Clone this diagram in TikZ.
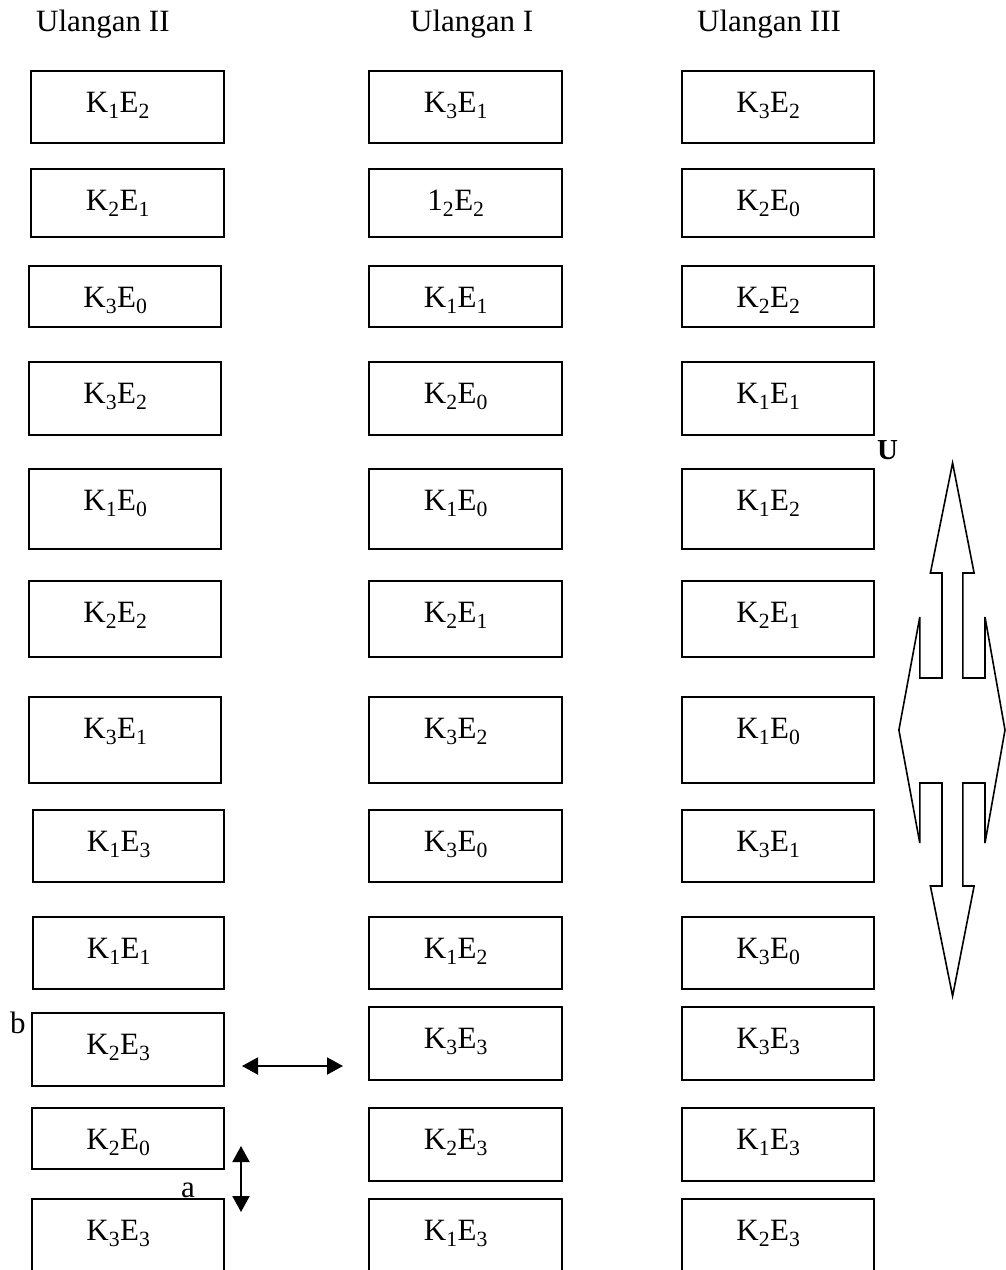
\documentclass[tikz,border=0pt]{standalone}
\usepackage{fontspec}
\setmainfont{Liberation Serif}
\usetikzlibrary{arrows.meta}

\newcommand{\ke}[2]{K\textsubscript{#1}E\textsubscript{#2}}

\tikzset{
	petak/.style={draw, line width=1.6pt, inner sep=0pt, outer sep=0pt},
	isi/.style={anchor=base, inner sep=0pt, font=\fontsize{31}{37}\selectfont},
	panah/.style={line width=2pt, {Triangle[length=16pt,width=17pt]}-{Triangle[length=16pt,width=17pt]}}
}

\begin{document}
\begin{tikzpicture}[x=1pt,y=-1pt]
	\useasboundingbox (0,0) rectangle (1006,1270);

	\node[isi, anchor=base west] (j2) at (36,31) {Ulangan II};
	\node[isi, anchor=base west] (j1) at (410,31) {Ulangan I};
	\node[isi, anchor=base west] (j3) at (697,31) {Ulangan III};

	% Ulangan II
	\foreach \n/\l/\r/\t/\b/\lab in {1/31/224/71/143/\ke{1}{2}, 2/31/224/169/237/\ke{2}{1},
		3/29/221/266/327/\ke{3}{0}, 4/29/221/362/435/\ke{3}{2}, 5/29/221/469/549/\ke{1}{0},
		6/29/221/581/657/\ke{2}{2}, 7/29/221/697/783/\ke{3}{1}, 8/33/224/810/882/\ke{1}{3},
		9/33/224/917/989/\ke{1}{1}, 10/32/224/1013/1086/\ke{2}{3}, 11/32/224/1108/1169/\ke{2}{0},
		12/32/224/1199/1290/\ke{3}{3}}
	{
		\node[petak, minimum width=\r-\l, minimum height=\b-\t] (a\n) at ({(\l+\r)/2},{(\t+\b)/2}) {};
		\node[isi] (ta\n) at ([xshift=-9.5pt, yshift=-41.5pt]a\n.north) {\lab};
	}

	% Ulangan I
	\foreach \n/\t/\b/\lab in {1/71/143/\ke{3}{1}, 2/169/237/{1\textsubscript{2}E\textsubscript{2}},
		3/266/327/\ke{1}{1}, 4/362/435/\ke{2}{0}, 5/469/549/\ke{1}{0}, 6/581/657/\ke{2}{1},
		7/697/783/\ke{3}{2}, 8/810/882/\ke{3}{0}, 9/917/989/\ke{1}{2}, 10/1007/1080/\ke{3}{3},
		11/1108/1181/\ke{2}{3}, 12/1199/1290/\ke{1}{3}}
	{
		\node[petak, minimum width=193, minimum height=\b-\t] (b\n) at (465.5,{(\t+\b)/2}) {};
		\node[isi] (tb\n) at ([xshift=-9.5pt, yshift=-41.5pt]b\n.north) {\lab};
	}

	% Ulangan III
	\foreach \n/\t/\b/\lab in {1/71/143/\ke{3}{2}, 2/169/237/\ke{2}{0},
		3/266/327/\ke{2}{2}, 4/362/435/\ke{1}{1}, 5/469/549/\ke{1}{2}, 6/581/657/\ke{2}{1},
		7/697/783/\ke{1}{0}, 8/810/882/\ke{3}{1}, 9/917/989/\ke{3}{0}, 10/1007/1080/\ke{3}{3},
		11/1108/1181/\ke{1}{3}, 12/1199/1290/\ke{2}{3}}
	{
		\node[petak, minimum width=192, minimum height=\b-\t] (c\n) at (778,{(\t+\b)/2}) {};
		\node[isi] (tc\n) at ([xshift=-9.5pt, yshift=-41.5pt]c\n.north) {\lab};
	}

	\node[isi, anchor=base west] (lb) at (10,1033) {b};
	\node[isi, anchor=base west] (la) at (181,1197) {a};
	\node[isi, anchor=base west, font=\fontsize{29}{34}\selectfont\bfseries] (lu) at (877,459) {U};

	\coordinate (h1) at (242,1066);
	\coordinate (h2) at (343,1066);
	\coordinate (v1) at (241,1146);
	\coordinate (v2) at (241,1212);
	\draw[panah] (h1) -- (h2);
	\draw[panah] (v1) -- (v2);

	% panah besar
	\draw[line width=1.6pt, line join=miter] (952.6,463) -- (974.1,573) -- (962.9,573) -- (962.9,678)
		-- (985,678) -- (985,617) -- (1005,730) -- (985,843) -- (985,783) -- (962.9,783)
		-- (962.9,886) -- (974.1,886) -- (952.6,996) -- (930.4,886) -- (942,886) -- (942,783)
		-- (919.8,783) -- (919.8,843) -- (898.9,730) -- (919.8,617) -- (919.8,678) -- (942,678)
		-- (942,573) -- (930.4,573) -- cycle;
\end{tikzpicture}
\end{document}
